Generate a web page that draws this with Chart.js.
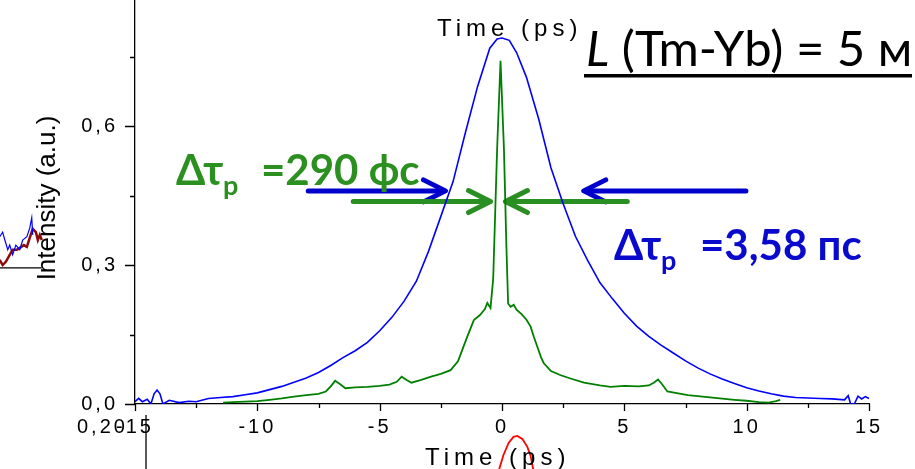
<!DOCTYPE html>
<html>
<head>
<meta charset="utf-8">
<script src="https://cdn.jsdelivr.net/npm/chart.js@4.4.0/dist/chart.umd.min.js"></script>
<style>
  html, body { margin: 0; padding: 0; background: #fff; }
  #wrap { position: relative; width: 915px; height: 469px; }
</style>
</head>
<body>
<div id="wrap"><canvas id="acf"></canvas></div>
<script>
// Axes
const xTicks = [-15, -12.5, -10, -7.5, -5, -2.5, 0, 2.5, 5, 7.5, 10, 12.5, 15];
const xLabelTicks = [-15, -10, -5, 0, 5, 10, 15];
const yTicks = [0, 0.15, 0.3, 0.45, 0.6, 0.75];
const yLabelTicks = [0, 0.3, 0.6];

// Autocorrelation, 3,58 ps (blue)
const blueTime = [-15, -14.85, -14.7, -14.5, -14.35, -14.22, -14.1, -13.98, -13.86, -13.6, -13.2, -12.8, -12.5, -12.0,
  -11.5, -11.0, -10.5, -10.0, -9.5, -9.0, -8.5, -8.0, -7.5, -7.0, -6.5, -6.0, -5.5, -5.0, -4.5, -4.0,
  -3.5, -3.0, -2.5, -2.0, -1.5, -1.0, -0.5, -0.2, 0.0, 0.3, 0.6, 1.0, 1.5, 2.0,
  2.5, 3.0, 3.5, 4.0, 4.5, 5.0, 5.5, 6.0, 6.5, 7.0, 7.5, 8.0, 8.5, 9.0, 9.5, 10.0,
  10.5, 11.0, 11.5, 12.0, 12.5, 13.0, 13.5, 14.0, 14.15, 14.25, 14.4, 14.55, 14.7, 14.85, 15.0];
const blueIntensity = [0.005, 0.012, 0.005, 0.010, 0.000, 0.022, 0.030, 0.022, 0.000, 0.008, 0.003, 0.006, 0.005, 0.012,
  0.014, 0.016, 0.020, 0.024, 0.031, 0.038, 0.047, 0.056, 0.068, 0.083, 0.100, 0.115, 0.133, 0.158, 0.187, 0.222,
  0.265, 0.330, 0.405, 0.480, 0.585, 0.685, 0.768, 0.788, 0.790, 0.785, 0.758, 0.705, 0.615, 0.510,
  0.432, 0.362, 0.310, 0.262, 0.228, 0.196, 0.168, 0.146, 0.127, 0.110, 0.093, 0.078, 0.065, 0.054, 0.044, 0.035,
  0.028, 0.022, 0.017, 0.014, 0.013, 0.012, 0.011, 0.009, 0.018, 0.000, 0.000, 0.017, 0.011, 0.016, 0.012];

// Autocorrelation, 290 fs (green)
const greenTime = [-11.4, -11.0, -10.5, -10.0, -9.5, -9.0, -8.5, -8.0, -7.5, -7.2,
  -7.0, -6.82, -6.6, -6.4, -6.0, -5.5, -5.0, -4.6, -4.3, -4.1,
  -3.9, -3.7, -3.3, -2.9, -2.5, -2.1, -1.8, -1.6, -1.4, -1.15,
  -0.9, -0.7, -0.6, -0.47, -0.36, -0.2, -0.06, 0.08, 0.18, 0.25,
  0.35, 0.48, 0.6, 0.8, 1.0, 1.17, 1.3, 1.44, 1.6, 1.71,
  2.0, 2.4, 2.8, 3.35, 4.0, 4.44, 5.0, 5.6, 6.0, 6.2,
  6.38, 6.55, 6.76, 7.2, 7.6, 8.2, 8.9, 9.5, 10.0, 10.5,
  10.9, 11.2, 11.37];
const greenIntensity = [0.003, 0.004, 0.005, 0.006, 0.009, 0.012, 0.016, 0.019, 0.022, 0.027,
  0.038, 0.050, 0.042, 0.034, 0.036, 0.037, 0.039, 0.042, 0.048, 0.059,
  0.052, 0.046, 0.052, 0.059, 0.065, 0.073, 0.092, 0.120, 0.148, 0.181,
  0.192, 0.205, 0.218, 0.207, 0.270, 0.550, 0.741, 0.550, 0.340, 0.217,
  0.210, 0.214, 0.203, 0.194, 0.182, 0.167, 0.145, 0.124, 0.100, 0.088,
  0.071, 0.062, 0.055, 0.046, 0.040, 0.037, 0.039, 0.038, 0.040, 0.046,
  0.053, 0.042, 0.027, 0.023, 0.019, 0.016, 0.012, 0.009, 0.007, 0.004,
  0.003, 0.006, 0.009];

// pieces of the neighbouring plots that stick into the picture
const sideBlueTime = [-20.53, -20.41, -20.32, -20.2, -20.12, -20.0, -19.87, -19.71, -19.59, -19.42, -19.3, -19.22, -19.18];
const sideBlueIntensity = [0.361, 0.371, 0.354, 0.333, 0.343, 0.322, 0.343, 0.333, 0.354, 0.361, 0.380, 0.402, 0.365];
const sideBrownTime = [-20.53, -20.41, -20.28, -20.12, -20.0, -19.83, -19.71, -19.54, -19.42, -19.3, -19.18, -19.05, -18.97, -18.89, -18.81];
const sideBrownIntensity = [0.311, 0.300, 0.307, 0.322, 0.333, 0.333, 0.337, 0.343, 0.339, 0.359, 0.378, 0.371, 0.354, 0.365, 0.354];
const sideBaseTime = [-20.53, -18.81];
const sideBaseIntensity = [0.294, 0.294];
const lowerAxisTime = [-14.55, -14.55];
const lowerAxisIntensity = [-0.024, -0.145];
const redTime = [-0.14, 0.06, 0.27, 0.47, 0.63, 0.84, 1.04, 1.17, 1.29];
const redIntensity = [-0.145, -0.110, -0.084, -0.071, -0.069, -0.076, -0.093, -0.112, -0.145];

const GREEN_TXT = '#2B9020';
const BLUE_TXT = '#0A0ACD';
const TICK_FONT = '"Liberation Sans", Arial, sans-serif';
const NOTE_FONT = 'Lato, "Open Sans", sans-serif';

function pts(xs, ys) {
    return xs.map((x, i) => ({ x: x, y: ys[i] }));
}

function fmtComma(v) {
    return v.toFixed(1).replace('.', ',');
}

function arrow(ctx, chart, from, to, y, color, width) {
    const sx = chart.scales.x, sy = chart.scales.y;
    const x0 = sx.getPixelForValue(from);
    const x1 = sx.getPixelForValue(to);
    const py = sy.getPixelForValue(y);
    const dir = x1 > x0 ? 1 : -1;
    ctx.save();
    ctx.strokeStyle = color;
    ctx.lineWidth = width;
    ctx.lineCap = 'round';
    ctx.lineJoin = 'round';
    ctx.beginPath();
    ctx.moveTo(x0, py);
    ctx.lineTo(x1 - dir * 3, py);
    ctx.stroke();
    ctx.beginPath();
    ctx.moveTo(x1 - dir * 22, py - 11);
    ctx.lineTo(x1, py);
    ctx.lineTo(x1 - dir * 22, py + 11);
    ctx.stroke();
    ctx.restore();
}

const decorations = {
    id: 'decorations',
    beforeDraw(chart) {
        // spaced-out tick labels like the original plot
        chart.ctx.letterSpacing = '3px';
    },
    beforeDatasetsDraw(chart) {
        const ctx = chart.ctx;
        ctx.letterSpacing = '0px';
        const sx = chart.scales.x, sy = chart.scales.y;

        // tick marks, outward
        ctx.save();
        ctx.strokeStyle = '#000';
        ctx.lineWidth = 1.3;
        ctx.beginPath();
        yTicks.forEach(v => {
            const py = Math.round(sy.getPixelForValue(v)) + 0.5;
            const len = yLabelTicks.includes(v) ? 10 : 5;
            ctx.moveTo(sx.left - len, py);
            ctx.lineTo(sx.left, py);
        });
        xTicks.forEach(v => {
            const px = Math.round(sx.getPixelForValue(v)) + 0.5;
            const len = xLabelTicks.includes(v) ? 7 : 4;
            ctx.moveTo(px, sy.bottom);
            ctx.lineTo(px, sy.bottom + len);
        });
        ctx.stroke();
        ctx.restore();

        // FWHM arrows
        arrow(ctx, chart, -7.92, -2.31, 0.460, '#0000CC', 5);
        arrow(ctx, chart, 9.97, 3.34, 0.460, '#0000CC', 5);
        arrow(ctx, chart, -6.08, -0.47, 0.437, '#2A8F22', 5);
        arrow(ctx, chart, 5.12, 0.14, 0.437, '#2A8F22', 5);
    },
    afterDraw(chart) {
        const ctx = chart.ctx;
        ctx.save();
        ctx.textAlign = 'left';
        ctx.textBaseline = 'alphabetic';

        // axis titles
        ctx.fillStyle = '#000';
        ctx.letterSpacing = '0px';
        ctx.font = '26px ' + TICK_FONT;
        ctx.save();
        ctx.translate(55, 198);
        ctx.rotate(-Math.PI / 2);
        ctx.textAlign = 'center';
        ctx.fillText('Intensity (a.u.)', 0, 0);
        ctx.restore();

        ctx.letterSpacing = '5px';
        ctx.font = '24px ' + TICK_FONT;
        ctx.fillText('Time (ps)', 425, 465);
        ctx.fillText('Time (ps)', 437, 36);

        ctx.letterSpacing = '3px';
        ctx.font = '20px ' + TICK_FONT;
        ctx.fillText('0,20', 77, 433);
        ctx.letterSpacing = '0px';

        // title
        ctx.fillStyle = '#000';
        ctx.font = 'italic 49px ' + NOTE_FONT;
        ctx.fillText('L', 586, 66);
        const lw = ctx.measureText('L').width;
        ctx.font = '49px ' + NOTE_FONT;
        ctx.fillText(' (Tm-Yb) = 5 м', 586 + lw, 66);
        ctx.fillRect(584, 74, 328, 3.5);

        // pulse widths
        ctx.fillStyle = GREEN_TXT;
        ctx.font = 'bold 42px ' + NOTE_FONT;
        ctx.fillText('Δτ', 176, 185);
        ctx.fillText('=290 фс', 261, 185);
        ctx.font = 'bold 27px ' + NOTE_FONT;
        ctx.fillText('p', 223, 195);

        ctx.fillStyle = BLUE_TXT;
        ctx.font = 'bold 42px ' + NOTE_FONT;
        ctx.fillText('Δτ', 614, 260);
        ctx.fillText('=3,58 пс', 700, 260);
        ctx.font = 'bold 27px ' + NOTE_FONT;
        ctx.fillText('p', 661, 270);

        ctx.restore();
    }
};

const ctx = document.getElementById('acf').getContext('2d');
new Chart(ctx, {
    type: 'line',
    data: {
        datasets: [
            { label: '3,58 ps', data: pts(blueTime, blueIntensity), borderColor: '#0000FF', borderWidth: 1.6 },
            { label: '290 fs', data: pts(greenTime, greenIntensity), borderColor: '#008000', borderWidth: 1.8 },
            { label: 'side blue', data: pts(sideBlueTime, sideBlueIntensity), borderColor: '#0000FF', borderWidth: 1.2, indexAxis: 'y', clip: false },
            { label: 'side brown', data: pts(sideBrownTime, sideBrownIntensity), borderColor: '#8B0A0A', borderWidth: 2.5, indexAxis: 'y', clip: false },
            { label: 'side base', data: pts(sideBaseTime, sideBaseIntensity), borderColor: '#000', borderWidth: 1.3, indexAxis: 'y', clip: false },
            { label: 'lower axis', data: pts(lowerAxisTime, lowerAxisIntensity), borderColor: '#000', borderWidth: 1.3, clip: false },
            { label: 'red', data: pts(redTime, redIntensity), borderColor: '#FF0000', borderWidth: 1.8, clip: false }
        ]
    },
    options: {
        responsive: true,
        maintainAspectRatio: false,
        animation: false,
        events: [],
        elements: {
            point: { radius: 0 },
            line: { tension: 0, fill: false }
        },
        layout: {
            padding: { left: 80, right: 46, top: 0, bottom: 30 }
        },
        plugins: {
            legend: { display: false },
            tooltip: { enabled: false }
        },
        scales: {
            x: {
                type: 'linear',
                min: -15,
                max: 15,
                afterBuildTicks: (s) => { s.ticks = xTicks.map(v => ({ value: v })); },
                afterFit: (s) => { s.height = 35; s.paddingLeft = 0; s.paddingRight = 0; },
                grid: { display: false, drawTicks: false },
                border: { display: true, color: '#000', width: 1.3 },
                ticks: {
                    autoSkip: false,
                    maxRotation: 0,
                    padding: 11,
                    color: '#000',
                    font: { family: TICK_FONT, size: 20, lineHeight: 1.2 },
                    callback: (v) => xLabelTicks.includes(v) ? String(v) : ''
                }
            },
            y: {
                min: 0,
                max: 0.872,
                afterBuildTicks: (s) => { s.ticks = yTicks.map(v => ({ value: v })); },
                afterFit: (s) => { s.width = 55; s.paddingTop = 0; s.paddingBottom = 0; },
                grid: { display: false, drawTicks: false },
                border: { display: true, color: '#000', width: 1.3 },
                ticks: {
                    autoSkip: false,
                    padding: 17,
                    color: '#000',
                    font: { family: TICK_FONT, size: 20, lineHeight: 1.2 },
                    callback: (v) => yLabelTicks.includes(v) ? fmtComma(v) : ''
                }
            }
        }
    },
    plugins: [decorations]
});
</script>
</body>
</html>
